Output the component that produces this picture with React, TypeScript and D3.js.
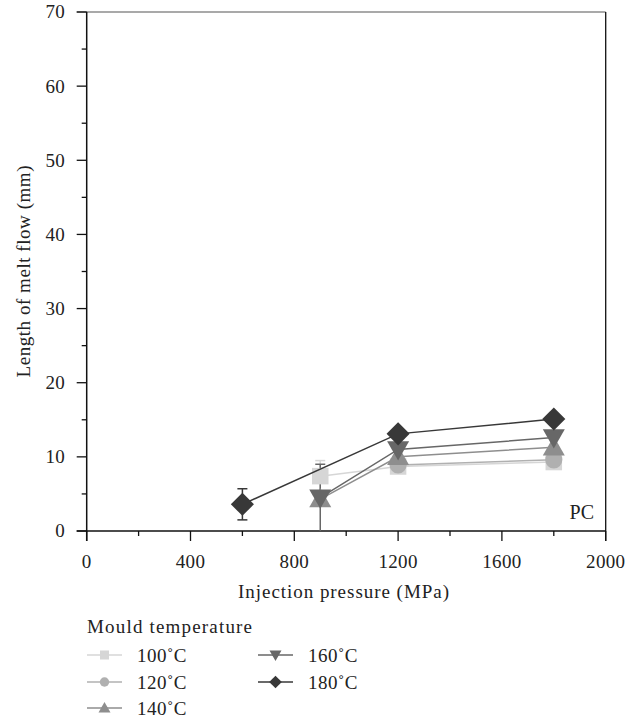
import React from "react";
import * as d3 from "d3";

const seriesNames = ["100˚C", "120˚C", "140˚C", "160˚C", "180˚C"];
const seriesColors = ["#d6d6d6", "#b0b0b0", "#8e8e8e", "#676767", "#383838"];
const seriesShapes = ["square", "circle", "triangle", "triangleDown", "diamond"];

const s100x = [900, 1200, 1800];
const s100y = [7.4, 8.7, 9.3];
const s100e = [2.1, 0, 0];
const s120x = [1200, 1800];
const s120y = [8.9, 9.6];
const s120e = [0, 0];
const s140x = [900, 1200, 1800];
const s140y = [4.3, 10.0, 11.3];
const s140e = [0, 0, 0];
const s160x = [900, 1200, 1800];
const s160y = [4.5, 11.0, 12.6];
const s160e = [4.5, 0, 0];
const s180x = [600, 1200, 1800];
const s180y = [3.6, 13.1, 15.1];
const s180e = [2.1, 0, 0];

const xTicks = [0, 400, 800, 1200, 1600, 2000];
const xMinor = [200, 600, 1000, 1400, 1800];
const yTicks = [0, 10, 20, 30, 40, 50, 60, 70];
const yMinor = [5, 15, 25, 35, 45, 55, 65];

const FONT = "'Liberation Serif', 'Times New Roman', serif";
const TXT = "#222";

function Marker({ shape, x, y, h, color }: any) {
  // h: half-size
  if (shape === "square")
    return <rect x={x - h * 0.75} y={y - h * 0.75} width={1.5 * h} height={1.5 * h} fill={color} />;
  if (shape === "circle") return <circle cx={x} cy={y} r={h * 0.78} fill={color} />;
  let pts: [number, number][] = [];
  if (shape === "triangle")
    pts = [
      [x, y - h],
      [x + h, y + h * 0.75],
      [x - h, y + h * 0.75],
    ];
  else if (shape === "triangleDown")
    pts = [
      [x, y + h],
      [x + h, y - h * 0.75],
      [x - h, y - h * 0.75],
    ];
  else
    pts = [
      [x, y - h * 1.05],
      [x + h * 1.05, y],
      [x, y + h * 1.05],
      [x - h * 1.05, y],
    ];
  const path = d3.line()(pts.concat([pts[0]])) + "Z";
  return <path d={path} fill={color} />;
}

export default function App() {
  const x = d3.scaleLinear().domain([0, 2000]).range([86.7, 605.7]);
  const y = d3.scaleLinear().domain([0, 70]).range([531, 12]);
  const line = d3
    .line<[number, number]>()
    .x((d) => x(d[0]))
    .y((d) => y(d[1]));

  const series = [
    { xs: s100x, ys: s100y, es: s100e },
    { xs: s120x, ys: s120y, es: s120e },
    { xs: s140x, ys: s140y, es: s140e },
    { xs: s160x, ys: s160y, es: s160e },
    { xs: s180x, ys: s180y, es: s180e },
  ];

  const legendPos = [
    [87, 655],
    [87, 682],
    [87, 708],
    [258, 655],
    [258, 682],
  ];

  return (
    <svg
      width={638}
      height={723}
      style={{ position: "absolute", left: 0, top: 0, display: "block", fontFamily: FONT }}
    >
      <rect x={0} y={0} width={638} height={723} fill="#fff" />
      {/* frame */}
      <line x1={x(0) - 10} x2={x(2000)} y1={y(70)} y2={y(70)} stroke="#555" strokeWidth={1.2} />
      <line x1={x(2000)} x2={x(2000)} y1={y(70)} y2={y(0) + 10} stroke="#111" strokeWidth={1.3} />
      <line x1={x(0)} x2={x(0)} y1={y(70)} y2={y(0) + 10} stroke="#111" strokeWidth={1.5} />
      <line x1={x(0) - 10} x2={x(2000)} y1={y(0)} y2={y(0)} stroke="#111" strokeWidth={1.5} />
      {yTicks.map((t) => (
        <g key={"yt" + t}>
          <line x1={x(0) - 10} x2={x(0)} y1={y(t)} y2={y(t)} stroke="#111" strokeWidth={1.3} />
          <text x={65} y={y(t)} dy="0.34em" textAnchor="end" fontSize={19} letterSpacing={0.3} fill={TXT}>
            {t}
          </text>
        </g>
      ))}
      {yMinor.map((t) => (
        <line key={"ym" + t} x1={x(0) - 5} x2={x(0)} y1={y(t)} y2={y(t)} stroke="#111" strokeWidth={1.3} />
      ))}
      {xTicks.map((t) => (
        <g key={"xt" + t}>
          <line x1={x(t)} x2={x(t)} y1={y(0)} y2={y(0) + 10} stroke="#111" strokeWidth={1.3} />
          <text x={x(t)} y={568} textAnchor="middle" fontSize={19} letterSpacing={0.3} fill={TXT}>
            {t}
          </text>
        </g>
      ))}
      {xMinor.map((t) => (
        <line key={"xm" + t} x1={x(t)} x2={x(t)} y1={y(0)} y2={y(0) + 5} stroke="#111" strokeWidth={1.3} />
      ))}
      <text x={343.5} y={598} textAnchor="middle" fontSize={19} textLength={211} lengthAdjust="spacing" fill={TXT}>
        Injection pressure (MPa)
      </text>
      <text
        transform={`translate(30,${(y(0) + y(70)) / 2}) rotate(-90)`}
        textAnchor="middle"
        fontSize={19}
        textLength={212}
        lengthAdjust="spacing"
        fill={TXT}
      >
        Length of melt flow (mm)
      </text>
      <text x={594} y={519} textAnchor="end" fontSize={20} fill={TXT}>
        PC
      </text>

      {/* error bars */}
      {series.map((s, i) =>
        s.xs.map((xv, j) =>
          s.es[j] > 0 ? (
            <g key={`e${i}-${j}`} stroke={seriesColors[i]} strokeWidth={1.5}>
              <line x1={x(xv)} x2={x(xv)} y1={y(s.ys[j] - s.es[j])} y2={y(s.ys[j] + s.es[j])} />
              <line x1={x(xv) - 5} x2={x(xv) + 5} y1={y(s.ys[j] + s.es[j])} y2={y(s.ys[j] + s.es[j])} />
              {s.ys[j] - s.es[j] > 0.2 ? (
                <line x1={x(xv) - 5} x2={x(xv) + 5} y1={y(s.ys[j] - s.es[j])} y2={y(s.ys[j] - s.es[j])} />
              ) : null}
            </g>
          ) : null
        )
      )}
      {/* lines and markers */}
      {series.map((s, i) => (
        <g key={"s" + i}>
          <path
            d={line(s.xs.map((xv, j) => [xv, s.ys[j]] as [number, number])) as string}
            fill="none"
            stroke={seriesColors[i]}
            strokeWidth={1.5}
          />
          {s.xs.map((xv, j) => (
            <Marker key={j} shape={seriesShapes[i]} x={x(xv)} y={y(s.ys[j])} h={11} color={seriesColors[i]} />
          ))}
        </g>
      ))}

      {/* legend */}
      <text x={87} y={633} fontSize={19} textLength={165} lengthAdjust="spacing" fill={TXT}>
        Mould temperature
      </text>
      {seriesNames.map((n, i) => (
        <g key={"l" + i}>
          <line
            x1={legendPos[i][0]}
            x2={legendPos[i][0] + 35}
            y1={legendPos[i][1]}
            y2={legendPos[i][1]}
            stroke={seriesColors[i]}
            strokeWidth={1.5}
          />
          <Marker
            shape={seriesShapes[i]}
            x={legendPos[i][0] + 17.5}
            y={legendPos[i][1]}
            h={6}
            color={seriesColors[i]}
          />
          <text x={legendPos[i][0] + 50} y={legendPos[i][1] + 7} fontSize={19} letterSpacing={0.5} fill={TXT}>
            {n}
          </text>
        </g>
      ))}
    </svg>
  );
}
